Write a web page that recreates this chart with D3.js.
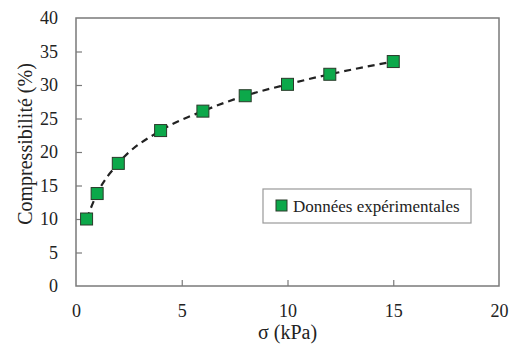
<!DOCTYPE html>
<html><head><meta charset="utf-8">
<script src="https://cdn.jsdelivr.net/npm/d3@7"></script>
<style>body{margin:0;background:#fff}svg{display:block}</style>
</head><body><div id="c"></div>
<script>
const sigma = [0.5, 1, 2, 4, 6, 8, 10, 12, 15];
const compress = [10.0, 13.8, 18.3, 23.2, 26.1, 28.4, 30.1, 31.6, 33.5];
const xTicks = [0, 5, 10, 15, 20];
const yTicks = [0, 5, 10, 15, 20, 25, 30, 35, 40];
const legendLabel = "Données expérimentales";
const xTitle = "σ (kPa)";
const yTitle = "Compressibilité (%)";

const W = 515, H = 349;
const m = {l: 76, r: 16, t: 18, b: 63};
const FONT = "Liberation Serif";
const svg = d3.select("#c").append("svg").attr("width", W).attr("height", H)
  .attr("font-family", FONT).style("font-family", "'Liberation Serif'", "important");
const x = d3.scaleLinear().domain([0, 20]).range([m.l, W - m.r]);
const y = d3.scaleLinear().domain([0, 40]).range([H - m.b, m.t]);
const axisColor = "#7a7a7a";
function serif(sel, size) {
  return sel.attr("font-family", FONT).attr("font-size", size)
    .style("font-family", "'Liberation Serif'", "important").style("font-size", size + "px")
    .attr("fill", "#222");
}

svg.append("rect").attr("x", x(0)).attr("y", y(40)).attr("width", x(20) - x(0)).attr("height", y(0) - y(40))
  .attr("fill", "none").attr("stroke", axisColor).attr("stroke-width", 1.5);

const xa = svg.append("g").attr("transform", `translate(0,${y(0)})`)
  .call(d3.axisBottom(x).tickValues(xTicks).tickSize(-6).tickPadding(18).tickFormat(d3.format("d")));
const ya = svg.append("g").attr("transform", `translate(${x(0)},0)`)
  .call(d3.axisLeft(y).tickValues(yTicks).tickSize(-6).tickPadding(18).tickFormat(d3.format("d")));
[xa, ya].forEach(a => {
  a.attr("font-family", FONT).attr("font-size", 18);
  a.select(".domain").remove();
  a.selectAll("line").attr("stroke", axisColor).attr("stroke-width", 1.2);
  serif(a.selectAll("text"), 18);
});
xa.selectAll(".tick").filter(d => d === 0 || d === 20).select("line").remove();
ya.selectAll(".tick").filter(d => d === 0 || d === 40).select("line").remove();

serif(svg.append("text"), 20).attr("x", (x(0) + x(20)) / 2).attr("y", 339).attr("text-anchor", "middle").text(xTitle);
serif(svg.append("text"), 20).attr("transform", `translate(32,${(y(0) + y(40)) / 2 - 8}) rotate(-90)`)
  .attr("text-anchor", "middle").text(yTitle);

const pts = sigma.map((s, i) => [s, compress[i]]);
svg.append("path").datum(pts)
  .attr("d", d3.line().x(d => x(d[0])).y(d => y(d[1])).curve(d3.curveMonotoneX))
  .attr("fill", "none").attr("stroke", "#222").attr("stroke-width", 2.2).attr("stroke-dasharray", "7,5");

const ms = 12;
svg.selectAll("rect.pt").data(pts).enter().append("rect").attr("class", "pt")
  .attr("x", d => x(d[0]) - ms / 2).attr("y", d => y(d[1]) - ms / 2)
  .attr("width", ms).attr("height", ms)
  .attr("fill", "#0ca84a").attr("stroke", "#2a3a2a").attr("stroke-width", 1);

const lg = svg.append("g");
lg.append("rect").attr("x", 263).attr("y", 189).attr("width", 208).attr("height", 34)
  .attr("fill", "#fff").attr("stroke", "#999").attr("stroke-width", 1.2);
lg.append("rect").attr("x", 276).attr("y", 200).attr("width", 11).attr("height", 11)
  .attr("fill", "#0ca84a").attr("stroke", "#2a3a2a").attr("stroke-width", 1);
serif(lg.append("text"), 17).attr("x", 293).attr("y", 212).text(legendLabel);
</script></body></html>
